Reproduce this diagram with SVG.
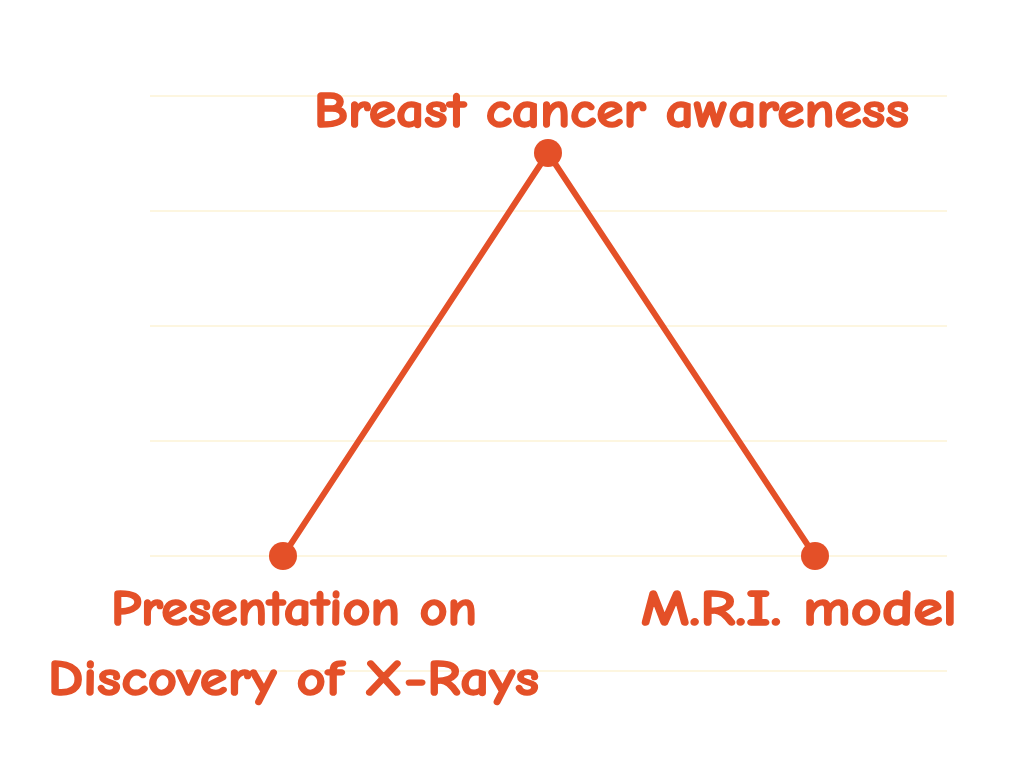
<svg xmlns="http://www.w3.org/2000/svg" width="1024" height="768" viewBox="0 0 1024 768">
<style>
.grid{stroke:#fdf3d6;stroke-width:1.5;fill:none}
.edge{stroke:#e45028;stroke-width:6;fill:none;stroke-linecap:round}
.dot{fill:#e45028}
.lbl{fill:#e45028;stroke:#e45028;stroke-width:1.6;stroke-linejoin:round;font-family:"Comic Sans MS","Comic Neue","DejaVu Sans",sans-serif;font-weight:bold;font-size:51px}
</style>
<rect width="1024" height="768" fill="#ffffff"/>
<g id="grid">
<line class="grid" x1="150" y1="96" x2="947" y2="96"/>
<line class="grid" x1="150" y1="211" x2="947" y2="211"/>
<line class="grid" x1="150" y1="326" x2="947" y2="326"/>
<line class="grid" x1="150" y1="441" x2="947" y2="441"/>
<line class="grid" x1="150" y1="556" x2="947" y2="556"/>
<line class="grid" x1="150" y1="671" x2="947" y2="671"/>
</g>
<g id="connectors">
<line class="edge" x1="548" y1="153" x2="283" y2="556"/>
<line class="edge" x1="548" y1="153" x2="815" y2="556"/>
</g>
<g id="node-top">
<circle class="dot" cx="548" cy="153" r="14"/>
<text class="lbl" x="314" y="127" textLength="595" lengthAdjust="spacingAndGlyphs">Breast cancer awareness</text>
</g>
<g id="node-left">
<circle class="dot" cx="283" cy="556" r="14"/>
<text class="lbl" x="111" y="625" textLength="366" lengthAdjust="spacingAndGlyphs">Presentation on</text>
<text class="lbl" x="48" y="695" textLength="491" lengthAdjust="spacingAndGlyphs">Discovery of X-Rays</text>
</g>
<g id="node-right">
<circle class="dot" cx="815" cy="556" r="14"/>
<text class="lbl" x="641" y="625" textLength="316" lengthAdjust="spacingAndGlyphs">M.R.I. model</text>
</g>
</svg>
